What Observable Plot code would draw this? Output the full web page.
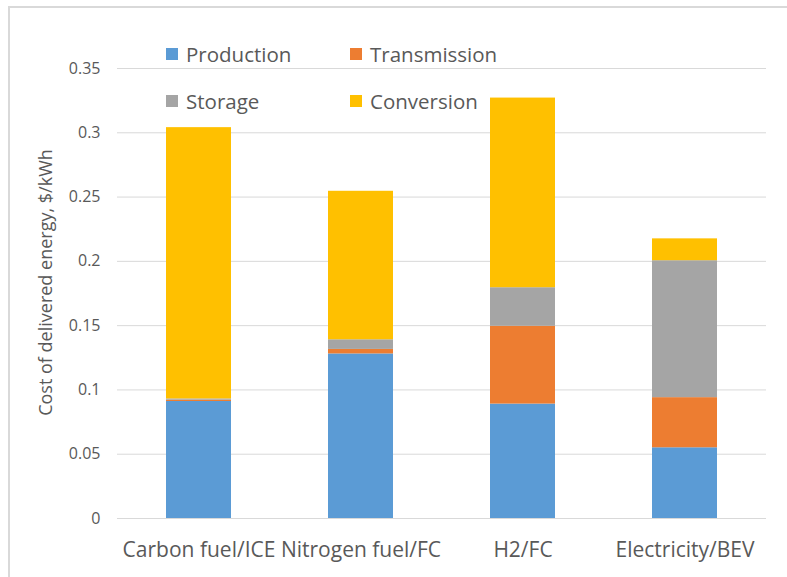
<!DOCTYPE html>
<html>
<head>
<meta charset="utf-8">
<script src="https://cdn.jsdelivr.net/npm/d3@7"></script>
<script src="https://cdn.jsdelivr.net/npm/@observablehq/plot@0.6"></script>
<style>
  html, body { margin: 0; padding: 0; background: #fff; }
  #wrap { position: relative; width: 787px; height: 577px; overflow: hidden; }
  #border { position: absolute; left: 8px; top: 6px; width: 800px; height: 600px; border: 2px solid #d9d9d9; box-sizing: border-box; }
  .leg { position: absolute; font-family: "Open Sans", sans-serif; font-size: 20.5px; color: #595959; display: flex; align-items: center; white-space: nowrap; }
  .leg span.sw { display: inline-block; width: 12px; height: 12px; margin-right: 8px; }
</style>
</head>
<body>
<div id="wrap"><div id="border"></div></div>
<script>
const categories = ["Carbon fuel/ICE", "Nitrogen fuel/FC", "H2/FC", "Electricity/BEV"];
const seriesNames = ["Production", "Transmission", "Storage", "Conversion"];
const seriesColors = ["#5B9BD5", "#ED7D31", "#A5A5A5", "#FFC000"];
const production   = [0.091, 0.128, 0.089, 0.055];
const transmission = [0.001, 0.0035, 0.0605, 0.039];
const storage      = [0.001, 0.0075, 0.030, 0.1065];
const conversion   = [0.211, 0.1155, 0.1475, 0.017];
const yTicks = [0, 0.05, 0.1, 0.15, 0.2, 0.25, 0.3, 0.35];
const yLabel = "Cost of delivered energy, $/kWh";

const seriesValues = [production, transmission, storage, conversion];
const data = [];
seriesNames.forEach((s, i) => categories.forEach((c, j) => data.push({category: c, series: s, value: seriesValues[i][j]})));

const font = "'Open Sans', sans-serif";
const chart = Plot.plot({
  width: 787,
  height: 577,
  marginLeft: 117,
  marginRight: 21,
  marginTop: 68,
  marginBottom: 59,
  style: {fontFamily: font, fontSize: "17px", color: "#595959", background: "transparent"},
  x: {domain: categories, paddingInner: 0.6, paddingOuter: 0.3, label: null},
  y: {domain: [0, 0.35], label: null},
  color: {domain: seriesNames, range: seriesColors},
  marks: [
    Plot.ruleY(yTicks, {stroke: "#d9d9d9", strokeWidth: 1}),
    Plot.barY(data, {x: "category", y: "value", fill: "series", order: seriesNames}),
    Plot.axisY(yTicks, {tickSize: 0, tickPadding: 17, tickFormat: d => String(d), fontSize: 16, fill: "#595959", label: null}),
    Plot.axisX({tickSize: 0, tickPadding: 24, fontSize: 21, fill: "#595959", label: null}),
    Plot.text([yLabel], {x: null, y: null, text: d => d, frameAnchor: "left", textAnchor: "middle", lineAnchor: "middle", rotate: -90, dx: -71, dy: -11, fontSize: 18, fill: "#595959"})
  ]
});
chart.style.position = "absolute";
chart.style.left = "0px";
chart.style.top = "0px";
const wrap = document.getElementById("wrap");
wrap.appendChild(chart);

// legend
const legPos = [[166, 54], [350, 54], [166, 101], [350, 101]];
seriesNames.forEach((s, i) => {
  const d = document.createElement("div");
  d.className = "leg";
  d.style.left = legPos[i][0] + "px";
  d.style.top = (legPos[i][1] - 12) + "px";
  d.style.height = "24px";
  d.innerHTML = `<span class="sw" style="background:${seriesColors[i]}"></span>${s}`;
  wrap.appendChild(d);
});
</script>
</body>
</html>
